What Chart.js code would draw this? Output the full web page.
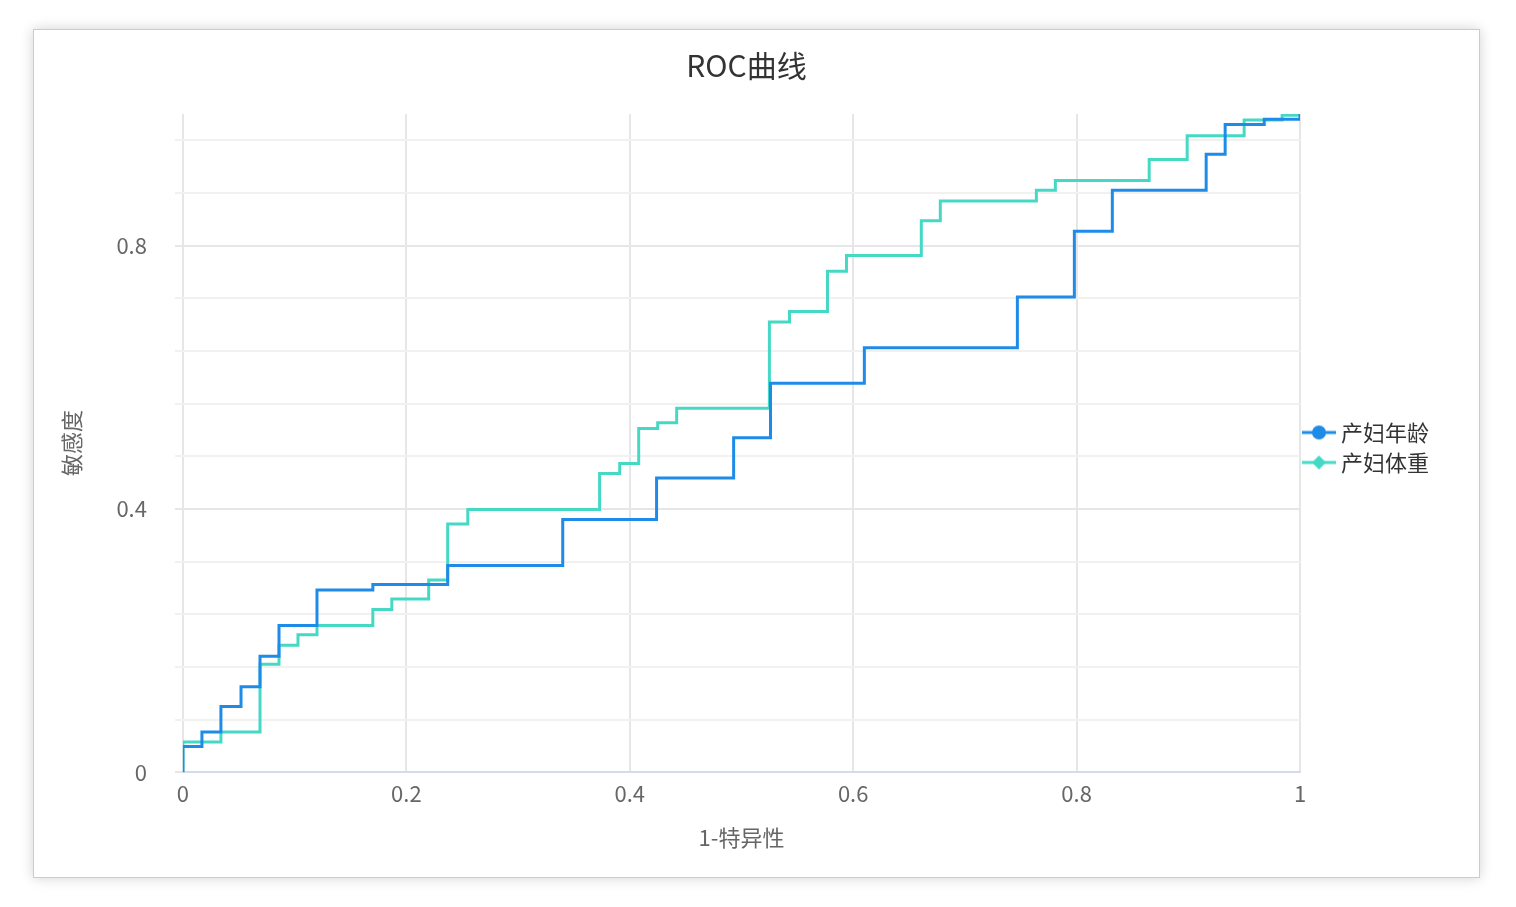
<!DOCTYPE html>
<html><head><meta charset="utf-8">
<script src="https://cdn.jsdelivr.net/npm/chart.js@4"></script>
<style>
body{margin:0;background:#fff;font-family:"Noto Sans CJK SC","Noto Sans",sans-serif}
#card{position:absolute;left:33px;top:29px;width:1445px;height:847px;border:1px solid #ccc;box-shadow:0 0 12px rgba(0,0,0,0.18);background:#fff}
</style></head><body>
<div id="card"><canvas id="c"></canvas></div>
<script>
const ageX=[0,0,0.017,0.034,0.052,0.069,0.086,0.120,0.170,0.237,0.340,0.424,0.493,0.526,0.610,0.747,0.798,0.832,0.916,0.933,0.968,1.0];
const ageY=[0,0.039,0.061,0.100,0.130,0.176,0.223,0.277,0.285,0.314,0.384,0.447,0.508,0.591,0.645,0.722,0.822,0.884,0.939,0.984,0.992,1.0];
const wtX=[0,0,0.034,0.069,0.086,0.103,0.120,0.170,0.187,0.220,0.237,0.255,0.373,0.391,0.408,0.425,0.442,0.525,0.543,0.577,0.594,0.661,0.678,0.764,0.781,0.865,0.899,0.950,0.984,1.0];
const wtY=[0,0.046,0.061,0.164,0.193,0.209,0.223,0.247,0.263,0.292,0.377,0.399,0.454,0.469,0.522,0.531,0.553,0.684,0.700,0.761,0.785,0.838,0.868,0.884,0.899,0.931,0.967,0.991,0.998,1.0];
const seriesNames=['产妇年龄','产妇体重'];
const toPts=(xs,ys)=>xs.map((x,i)=>({x,y:ys[i]}));
const fam='"Noto Sans CJK SC","Noto Sans",sans-serif';
const tickFont={size:22,family:fam};
function marker(color,diamond){
 const c=document.createElement('canvas');c.width=34;c.height=18;const g=c.getContext('2d');
 g.strokeStyle=color;g.lineWidth=3;g.beginPath();g.moveTo(0,9);g.lineTo(34,9);g.stroke();
 g.fillStyle=color;g.beginPath();
 if(diamond){g.moveTo(17,2);g.lineTo(24,9);g.lineTo(17,16);g.lineTo(10,9);g.closePath();}
 else g.arc(17,9,7,0,Math.PI*2);
 g.fill();return c;
}
const mk=[marker('#1f8be8',false),marker('#45d9c5',true)];
new Chart(document.getElementById('c'),{
 type:'line',
 data:{datasets:[
  {label:seriesNames[0],data:toPts(ageX,ageY),borderColor:'#1f8be8',backgroundColor:'#1f8be8',borderWidth:3,stepped:'before',pointRadius:0,pointStyle:mk[0]},
  {label:seriesNames[1],data:toPts(wtX,wtY),borderColor:'#45d9c5',backgroundColor:'#45d9c5',borderWidth:3,stepped:'before',pointRadius:0,pointStyle:mk[1]}
 ]},
 options:{responsive:true,maintainAspectRatio:false,animation:false,
  layout:{padding:{left:20,right:40,top:10,bottom:22}},
  plugins:{
   title:{display:true,text:'ROC曲线',color:'#333',font:{size:30,weight:'normal',family:fam},padding:{top:8,bottom:30}},
   legend:{position:'right',labels:{usePointStyle:true,color:'#333',font:{size:22,family:fam},padding:8},
     onClick:null},
   tooltip:{enabled:false}
  },
  scales:{
   x:{type:'linear',min:0,max:1,ticks:{stepSize:0.2,color:'#666',font:tickFont,padding:8,
        callback:v=>String(Math.round(v*10)/10)},
      grid:{color:'#e6e6e6',lineWidth:2,tickLength:0},border:{color:'#d5dbea',width:2},
      title:{display:true,text:'1-特异性',color:'#666',font:{size:22,family:fam},padding:{top:10}}},
   y:{min:0,max:1,ticks:{stepSize:0.04,color:'#666',font:tickFont,padding:28,
        callback:v=>{const r=Math.round(v*100);return r%20===0?String(r/100):'';}},
      grid:{color:c=>{const r=Math.round(c.tick.value*100);return r%20===0?'#e6e6e6':'#f1f1f1';},lineWidth:2,tickLength:8},border:{display:false},
      title:{display:true,text:'敏感度',color:'#666',font:{size:22,family:fam},padding:{bottom:4}}}
  }
 }
});
</script></body></html>
